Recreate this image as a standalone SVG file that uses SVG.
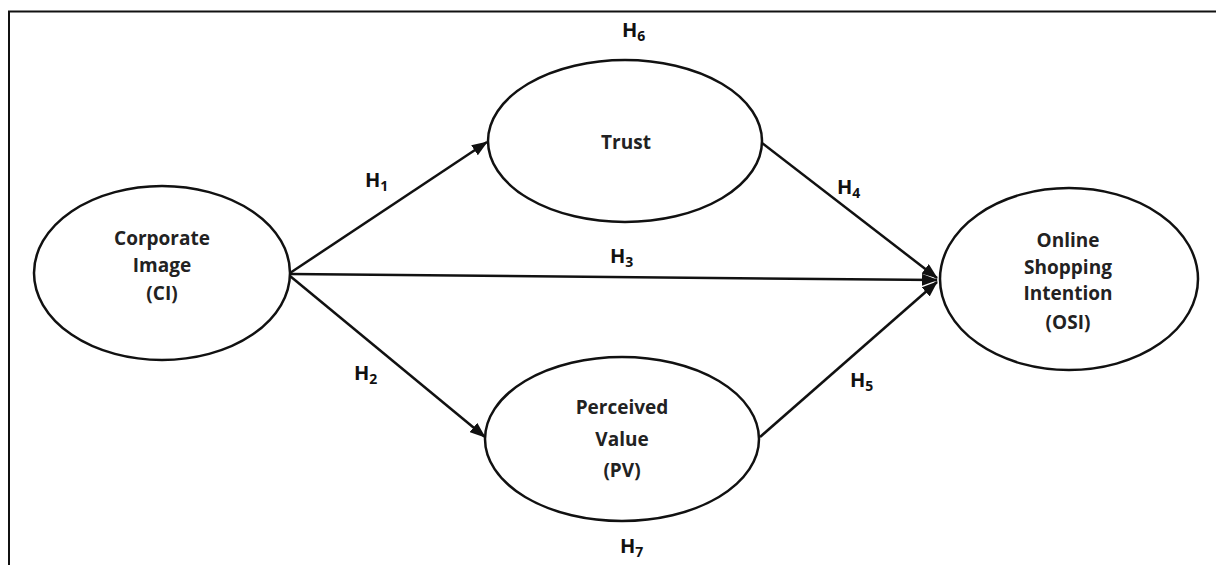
<svg xmlns="http://www.w3.org/2000/svg" width="1216" height="565" viewBox="0 0 1216 565">
<style>
.frame{fill:none;stroke:#111;stroke-width:2}
.node ellipse{fill:#fff;stroke:#111;stroke-width:2.5}
.lbl{font-family:"Open Sans","Liberation Sans",sans-serif;font-weight:700;font-size:19px;fill:#222;text-anchor:middle}
.h{font-family:"Open Sans","Liberation Sans",sans-serif;font-weight:700;font-size:20px;fill:#111}
.h tspan{font-size:14px}
.edge{stroke:#111;stroke-width:2.5;fill:none;marker-end:url(#arr)}
</style>
<defs>
<marker id="arr" markerUnits="userSpaceOnUse" markerWidth="16" markerHeight="12" refX="15" refY="6" orient="auto">
<path d="M0,0 L16,6 L0,12 Z" fill="#111"/>
</marker>
</defs>
<rect width="1216" height="565" fill="#fff"/>
<path class="frame" d="M9,565 V11.5 H1216"/>
<g id="connectors">
<line class="edge" x1="290" y1="273" x2="487" y2="142"/>
<line class="edge" x1="290" y1="276" x2="485" y2="437"/>
<line class="edge" x1="290" y1="274" x2="937" y2="280"/>
<line class="edge" x1="762" y1="143" x2="937" y2="278"/>
<line class="edge" x1="760" y1="437" x2="937" y2="282"/>
</g>
<g id="node-ci" class="node">
<ellipse cx="162" cy="273" rx="128" ry="87"/>
<text class="lbl" x="162" y="245">Corporate</text>
<text class="lbl" x="162" y="272">Image</text>
<text class="lbl" x="162" y="300">(CI)</text>
</g>
<g id="node-trust" class="node">
<ellipse cx="625" cy="141" rx="137" ry="81"/>
<text class="lbl" x="626" y="149">Trust</text>
</g>
<g id="node-pv" class="node">
<ellipse cx="622" cy="439" rx="137" ry="82"/>
<text class="lbl" x="622" y="414">Perceived</text>
<text class="lbl" x="622" y="446">Value</text>
<text class="lbl" x="622" y="477">(PV)</text>
</g>
<g id="node-osi" class="node">
<ellipse cx="1069" cy="279" rx="129" ry="91"/>
<text class="lbl" x="1068" y="247">Online</text>
<text class="lbl" x="1068" y="274">Shopping</text>
<text class="lbl" x="1068" y="300">Intention</text>
<text class="lbl" x="1068" y="329">(OSI)</text>
</g>
<g id="labels">
<text class="h" x="622" y="37">H<tspan dy="4">6</tspan></text>
<text class="h" x="365" y="187">H<tspan dy="4">1</tspan></text>
<text class="h" x="610" y="263">H<tspan dy="4">3</tspan></text>
<text class="h" x="354" y="380">H<tspan dy="4">2</tspan></text>
<text class="h" x="620" y="553">H<tspan dy="4">7</tspan></text>
<text class="h" x="837" y="194">H<tspan dy="4">4</tspan></text>
<text class="h" x="850" y="387">H<tspan dy="4">5</tspan></text>
</g>
</svg>
